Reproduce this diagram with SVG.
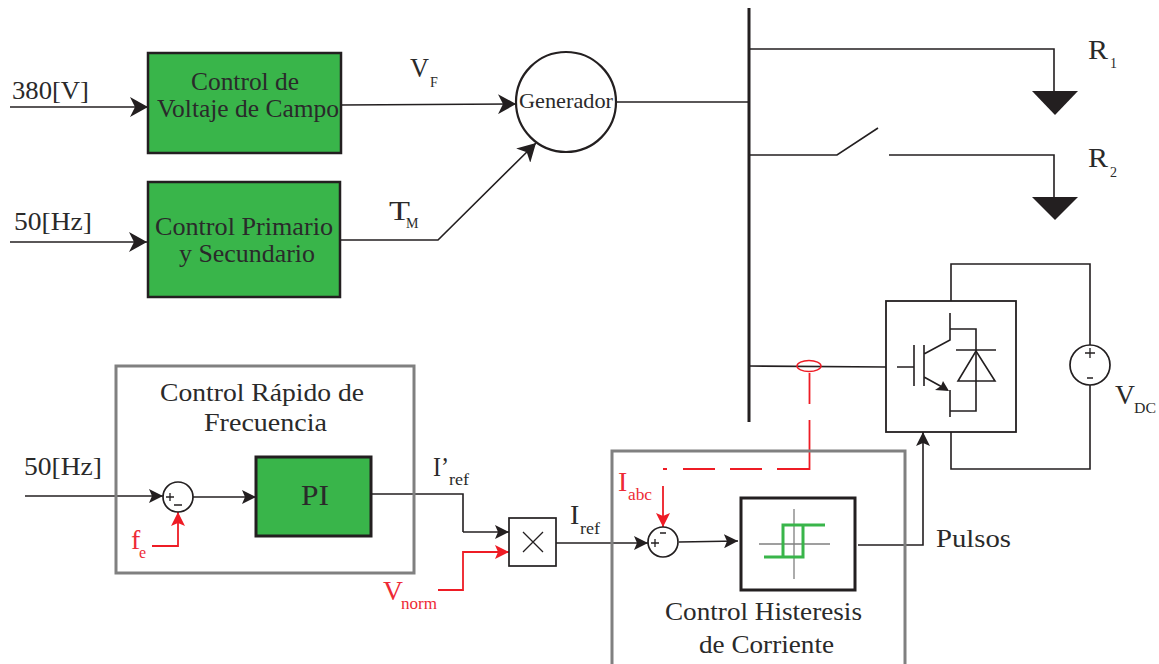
<svg xmlns="http://www.w3.org/2000/svg" width="1159" height="664" viewBox="0 0 1159 664">
<style>
text{font-family:"Liberation Serif","Times New Roman",serif;fill:#2a2a2a;font-size:26px}
.s{font-size:14px}
.m{font-size:28px}
.r{fill:#ee2a35}
.l{fill:none;stroke:#231f20;stroke-width:1.6}
.t{fill:none;stroke:#231f20;stroke-width:1.3}
.red{fill:none;stroke:#ee1c25;stroke-width:1.8}
.g{fill:#39b54a;stroke:#231f20}
.f{fill:none;stroke:#808080;stroke-width:3}
.w{fill:#fff;stroke:#231f20;stroke-width:1.7}
</style>
<defs>
<marker id="a" markerUnits="userSpaceOnUse" markerWidth="18" markerHeight="20" refX="18" refY="10" orient="auto"><path d="M0 0L18 10L0 20L5 10Z" fill="#231f20"/></marker>
<marker id="b" markerUnits="userSpaceOnUse" markerWidth="14" markerHeight="14" refX="14" refY="7" orient="auto"><path d="M0 0L14 7L0 14L3 7Z" fill="#231f20"/></marker>
<marker id="ar" markerUnits="userSpaceOnUse" markerWidth="14" markerHeight="14" refX="14" refY="7" orient="auto"><path d="M0 0L14 7L0 14L3 7Z" fill="#ee1c25"/></marker>
</defs>
<g id="connectors">
<path class="l" marker-end="url(#a)" d="M10 107H148"/>
<path class="l" marker-end="url(#a)" d="M10 242H147"/>
<path class="l" marker-end="url(#a)" d="M341 105L516 104"/>
<path class="l" marker-end="url(#a)" d="M340 240H438L536 143"/>
<path class="l" d="M616 102H749"/>
<path class="l" d="M749 49H1054V92"/>
<path class="l" d="M749 155H837L878 128M889 155H1054V197"/>
<path class="l" d="M749 366L886 367"/>
<path class="l" d="M951 301V264H1090V345M1090 385V469H951V432"/>
<path class="l" marker-end="url(#b)" d="M25 496H163"/>
<path class="l" marker-end="url(#b)" d="M193 497H256"/>
<path class="l" d="M371 494H463V532"/>
<path class="l" marker-end="url(#b)" d="M463 532H509"/>
<path class="l" marker-end="url(#b)" d="M556 543H648"/>
<path class="l" marker-end="url(#b)" d="M679 542L738 541"/>
<path class="l" marker-end="url(#b)" d="M858 545H923V432"/>
<path class="red" marker-end="url(#ar)" d="M152 546H178V512"/>
<path class="red" marker-end="url(#ar)" d="M438 590H463V552H509"/>
<path class="red" marker-end="url(#ar)" d="M663 486V527"/>
<path class="red" d="M809.500 373V404M809.500 420V469H777M762 469H730M715 469H683M667 469H663"/>
</g>
<g id="bus"><path d="M749 8V422" stroke="#231f20" stroke-width="3" fill="none"/></g>
<g id="voltaje-campo"><rect class="g" stroke-width="2.5" x="148" y="53" width="193" height="100"/><text x="191" y="90" textLength="108" lengthAdjust="spacingAndGlyphs">Control de</text><text x="157" y="117" textLength="182" lengthAdjust="spacingAndGlyphs">Voltaje de Campo</text></g>
<g id="control-primario"><rect class="g" stroke-width="2.5" x="148" y="182" width="192" height="115"/><text x="155" y="235" textLength="178" lengthAdjust="spacingAndGlyphs">Control Primario</text><text x="179" y="262" textLength="136" lengthAdjust="spacingAndGlyphs">y Secundario</text></g>
<g id="generador"><circle cx="566" cy="102" r="50" fill="#fff" stroke="#231f20" stroke-width="2.2"/><text x="519" y="108" style="font-size:22px" textLength="94" lengthAdjust="spacingAndGlyphs">Generador</text></g>
<g id="control-rapido"><rect class="f" x="116" y="366" width="298" height="207"/><text x="160" y="401" textLength="204" lengthAdjust="spacingAndGlyphs">Control Rápido de</text><text x="204" y="431" textLength="123" lengthAdjust="spacingAndGlyphs">Frecuencia</text></g>
<g id="pi"><rect class="g" stroke-width="3" x="256" y="457" width="115" height="79"/><text x="301" y="505" style="font-size:29px" textLength="28" lengthAdjust="spacingAndGlyphs">PI</text></g>
<g id="sum1"><circle class="w" cx="178" cy="497" r="15"/><path class="t" d="M166 497H174M170 493V501M174 505H182"/></g>
<g id="mult"><rect class="w" x="509" y="518" width="47" height="48"/><path class="t" d="M523 532L543 552M543 532L523 552"/></g>
<g id="control-histeresis"><rect class="f" x="612" y="451" width="293" height="220"/><text x="665" y="620" textLength="197" lengthAdjust="spacingAndGlyphs">Control Histeresis</text><text x="699" y="653" textLength="135" lengthAdjust="spacingAndGlyphs">de Corriente</text></g>
<g id="sum2"><circle class="w" cx="663" cy="542" r="15"/><path class="t" d="M651 543H659M655 539V547M660 533H666"/></g>
<g id="histeresis"><rect fill="#fff" stroke="#231f20" stroke-width="3" x="741" y="498" width="114" height="92"/><path stroke="#808080" stroke-width="1.3" fill="none" d="M759 544H830M794 509V579"/><path stroke="#39b54a" stroke-width="3" fill="none" d="M764 557H803V525M783 557V525H825"/></g>
<g id="inversor"><rect fill="#fff" stroke="#231f20" stroke-width="1.8" x="886" y="301" width="130" height="131"/>
<path class="l" d="M897 367H914M914 345V386M924 345V386M924 354L950 340V313M950 329H976V411H950M950 390V417M924 377L944 388"/>
<path d="M949 391L935 390L941 386L943 381Z" fill="#231f20"/>
<path class="l" d="M956 350H996M958 381H995L976 351Z"/>
</g>
<g id="vdc"><circle class="w" cx="1090" cy="365" r="20"/><path class="t" d="M1085 353H1095M1090 348V358M1087 378H1093"/></g>
<g id="carga1"><path d="M1032 91H1078L1055 115Z" fill="#231f20"/></g>
<g id="carga2"><path d="M1032 197H1078L1055 220Z" fill="#231f20"/></g>
<ellipse cx="809" cy="366" rx="12" ry="5.500" fill="none" stroke="#ee1c25" stroke-width="1.500"/>
<g id="labels">
<text x="12" y="99" textLength="77" lengthAdjust="spacingAndGlyphs">380[V]</text>
<text x="14" y="230" textLength="78" lengthAdjust="spacingAndGlyphs">50[Hz]</text>
<text x="24" y="475" textLength="78" lengthAdjust="spacingAndGlyphs">50[Hz]</text>
<text class="m" x="410" y="77" textLength="19" lengthAdjust="spacingAndGlyphs">V</text><text class="s" x="430" y="87">F</text>
<text class="m" x="389" y="220" textLength="21" lengthAdjust="spacingAndGlyphs">T</text><text class="s" x="406" y="228">M</text>
<text class="m" x="1088" y="59" textLength="20" lengthAdjust="spacingAndGlyphs">R</text><text class="s" x="1110" y="68">1</text>
<text class="m" x="1088" y="167" textLength="20" lengthAdjust="spacingAndGlyphs">R</text><text class="s" x="1110" y="177">2</text>
<text class="m" x="1115" y="404" textLength="20" lengthAdjust="spacingAndGlyphs">V</text><text class="s" x="1134" y="413" textLength="22" lengthAdjust="spacingAndGlyphs">DC</text>
<text class="m" x="433" y="476" textLength="16" lengthAdjust="spacingAndGlyphs">I’</text><text class="s" x="449" y="485" style="font-size:16px" textLength="20" lengthAdjust="spacingAndGlyphs">ref</text>
<text class="m" x="570" y="524">I</text><text class="s" x="580" y="534" style="font-size:16px" textLength="20" lengthAdjust="spacingAndGlyphs">ref</text>
<text class="m r" x="131" y="549">f</text><text class="s r" x="139" y="558" style="font-size:16px">e</text>
<text class="m r" x="383" y="600" textLength="20" lengthAdjust="spacingAndGlyphs">V</text><text class="s r" x="401" y="609" style="font-size:16px" textLength="36" lengthAdjust="spacingAndGlyphs">norm</text>
<text class="m r" x="618" y="491">I</text><text class="s r" x="628" y="500" style="font-size:16px" textLength="24" lengthAdjust="spacingAndGlyphs">abc</text>
<text x="936" y="547" textLength="75" lengthAdjust="spacingAndGlyphs">Pulsos</text>
</g>
</svg>
